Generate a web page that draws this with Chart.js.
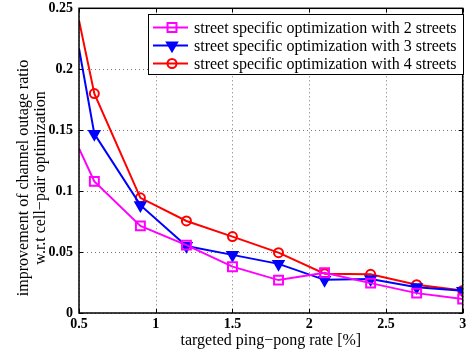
<!DOCTYPE html>
<html>
<head>
<meta charset="utf-8">
<script src="https://cdn.jsdelivr.net/npm/chart.js@4/dist/chart.umd.min.js"></script>
<style>
  html, body { margin: 0; padding: 0; background: #fff; }
  #wrap { width: 471px; height: 358px; }
</style>
</head>
<body>
<div id="wrap"><canvas id="lineChart" width="471" height="358"></canvas></div>
<script>
var rates = [0.5, 0.6, 0.9, 1.2, 1.5, 1.8, 2.1, 2.4, 2.7, 3.0];
var twoStreets = [0.135, 0.108, 0.0715, 0.0557, 0.038, 0.027, 0.033, 0.0245, 0.0163, 0.0115];
var threeStreets = [0.217, 0.147, 0.0885, 0.055, 0.0477, 0.0403, 0.0272, 0.0278, 0.0212, 0.0182];
var fourStreets = [0.240, 0.180, 0.0945, 0.0755, 0.0627, 0.0495, 0.0322, 0.0317, 0.0232, 0.0185];
var labels = [
  'street specific optimization with 2 streets',
  'street specific optimization with 3 streets',
  'street specific optimization with 4 streets'
];
var xTicks = [0.5, 1, 1.5, 2, 2.5, 3];
var yTicks = [0, 0.05, 0.1, 0.15, 0.2, 0.25];
var yTitle = ['improvement of channel outage ratio', 'w.r.t cell\u2212pair optimization'];

function toPoints(vals) {
  return rates.map(function (r, i) { return { x: r, y: vals[i] }; });
}
// no marker on the first point
function radii(r) {
  return rates.map(function (v, i) { return i === 0 ? 0 : r; });
}

var serif = "'Liberation Serif', 'Times New Roman', serif";

// dotted grid, frame, inner tick marks, y title and legend box, like matlab
var matlabLook = {
  id: 'matlabLook',
  beforeDatasetsDraw: function (chart) {
    var c = chart.ctx, a = chart.chartArea;
    var xs = chart.scales.x, ys = chart.scales.y;
    c.save();
    c.strokeStyle = '#777';
    c.lineWidth = 1;
    c.setLineDash([1, 3]);
    c.beginPath();
    xTicks.forEach(function (t) {
      var px = Math.round(xs.getPixelForValue(t)) + 0.5;
      c.moveTo(px, a.top); c.lineTo(px, a.bottom);
    });
    yTicks.forEach(function (t) {
      var py = Math.round(ys.getPixelForValue(t)) + 0.5;
      c.moveTo(a.left, py); c.lineTo(a.right, py);
    });
    c.stroke();
    c.restore();
  },
  afterDatasetsDraw: function (chart) {
    var c = chart.ctx, a = chart.chartArea;
    var xs = chart.scales.x, ys = chart.scales.y;
    c.save();
    c.strokeStyle = '#000';
    c.lineWidth = 1;
    c.beginPath();
    xTicks.forEach(function (t) {
      var px = Math.round(xs.getPixelForValue(t)) + 0.5;
      c.moveTo(px, a.bottom); c.lineTo(px, a.bottom - 4);
      c.moveTo(px, a.top); c.lineTo(px, a.top + 4);
    });
    yTicks.forEach(function (t) {
      var py = Math.round(ys.getPixelForValue(t)) + 0.5;
      c.moveTo(a.left, py); c.lineTo(a.left + 4, py);
      c.moveTo(a.right, py); c.lineTo(a.right - 4, py);
    });
    c.stroke();
    c.lineWidth = 1.5;
    c.strokeRect(a.left, a.top, a.right - a.left, a.bottom - a.top);

    // y axis title, centred on the figure height
    c.fillStyle = '#000';
    c.font = '16px ' + serif;
    c.textAlign = 'center';
    c.textBaseline = 'middle';
    c.save();
    c.translate(24, 178);
    c.rotate(-Math.PI / 2);
    c.fillText(yTitle[0], 0, 0);
    c.fillText(yTitle[1], 0, 17);
    c.restore();

    // legend
    var bx = 148, by = 14, bw = 315, bh = 60;
    c.fillStyle = '#fff';
    c.fillRect(bx, by, bw, bh);
    c.lineWidth = 1;
    c.strokeStyle = '#000';
    c.strokeRect(bx + 0.5, by + 0.5, bw, bh);
    c.textAlign = 'left';
    chart.data.datasets.forEach(function (ds, i) {
      var yy = by + 13.5 + i * 18;
      c.strokeStyle = ds.borderColor;
      c.lineWidth = 2;
      c.beginPath();
      c.moveTo(bx + 5, yy); c.lineTo(bx + 40, yy);
      c.stroke();
      c.fillStyle = ds.pointBackgroundColor;
      Chart.helpers.drawPoint(c, {
        pointStyle: ds.pointStyle, rotation: ds.pointRotation || 0,
        radius: ds.pointRadius[1], borderWidth: 2
      }, bx + 24, yy);
      c.fillStyle = '#000';
      c.fillText(ds.label, bx + 46, yy + 1);
    });
    c.restore();
  }
};

var ctx = document.getElementById('lineChart');

new Chart(ctx, {
  type: 'line',
  data: {
    datasets: [
      {
        label: labels[0],
        data: toPoints(twoStreets),
        borderColor: '#ff00ff',
        pointBackgroundColor: 'rgba(0,0,0,0)',
        pointBorderColor: '#ff00ff',
        pointStyle: 'rect',
        pointRadius: radii(6.3),
        pointBorderWidth: 2,
        borderWidth: 2
      },
      {
        label: labels[1],
        data: toPoints(threeStreets),
        borderColor: '#0000ff',
        pointBackgroundColor: '#0000ff',
        pointBorderColor: '#0000ff',
        pointStyle: 'triangle',
        pointRotation: 180,
        pointRadius: radii(5.8),
        pointBorderWidth: 2,
        borderWidth: 2
      },
      {
        label: labels[2],
        data: toPoints(fourStreets),
        borderColor: '#ff0000',
        pointBackgroundColor: 'rgba(0,0,0,0)',
        pointBorderColor: '#ff0000',
        pointStyle: 'circle',
        pointRadius: radii(4.5),
        pointBorderWidth: 2,
        borderWidth: 2
      }
    ]
  },
  options: {
    responsive: false,
    animation: false,
    layout: { padding: { top: 8, right: 7, left: 0, bottom: 8 } },
    plugins: {
      legend: { display: false },
      tooltip: { enabled: false }
    },
    scales: {
      x: {
        type: 'linear',
        min: 0.5,
        max: 3,
        afterBuildTicks: function (s) { s.ticks = xTicks.map(function (v) { return { value: v }; }); },
        afterFit: function (s) { s.height = 37; s.paddingLeft = 0; s.paddingRight = 0; },
        ticks: {
          color: '#000', padding: 3,
          font: { family: serif, size: 14, weight: 'bold' },
          callback: function (v) { return String(v); }
        },
        grid: { display: false, drawTicks: false, tickLength: 0 },
        border: { display: false },
        title: {
          display: true,
          text: 'targeted ping\u2212pong rate [%]',
          color: '#000',
          padding: { top: 0, bottom: 0 },
          font: { family: serif, size: 16 }
        }
      },
      y: {
        min: 0,
        max: 0.25,
        afterBuildTicks: function (s) { s.ticks = yTicks.map(function (v) { return { value: v }; }); },
        afterFit: function (s) { s.width = 79; s.paddingTop = 0; s.paddingBottom = 0; },
        ticks: {
          color: '#000', padding: 6,
          font: { family: serif, size: 14, weight: 'bold' },
          callback: function (v) { return String(v); }
        },
        grid: { display: false, drawTicks: false, tickLength: 0 },
        border: { display: false }
      }
    }
  },
  plugins: [matlabLook]
});
</script>
</body>
</html>
